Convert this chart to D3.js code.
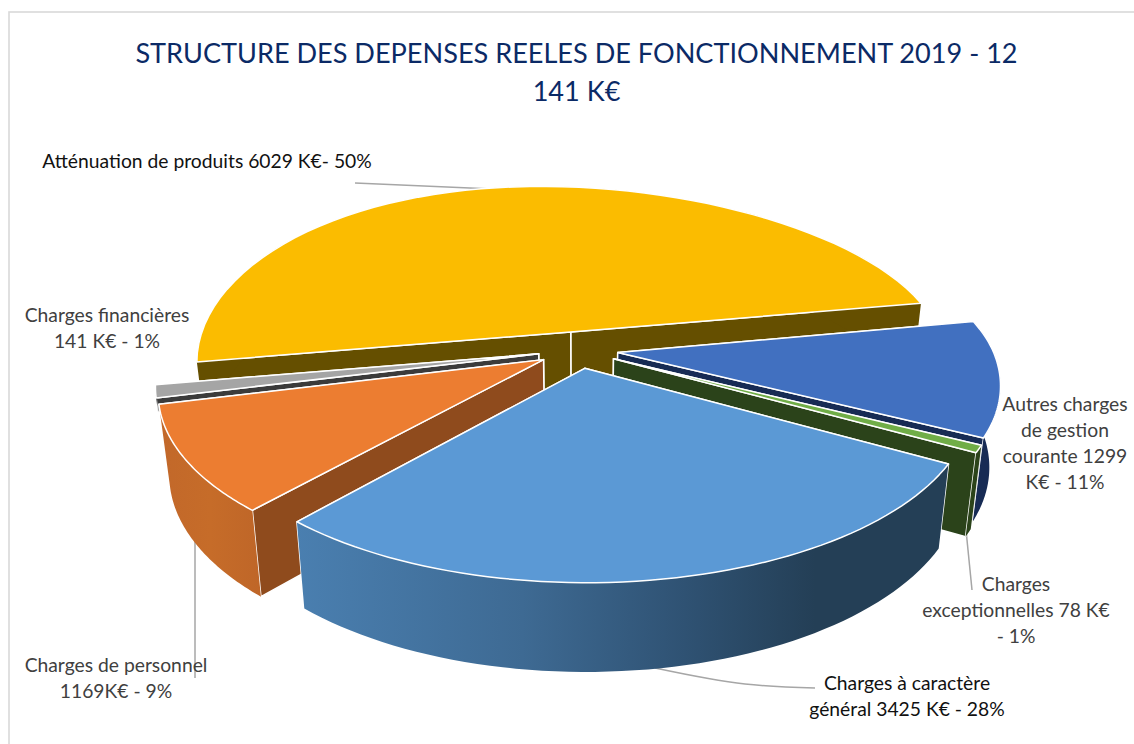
<!DOCTYPE html>
<html><head><meta charset="utf-8">
<script src="https://cdnjs.cloudflare.com/ajax/libs/d3/7.8.5/d3.min.js"></script>
<style>html,body{margin:0;padding:0;background:#fff;overflow:hidden}text{font-family:Lato,"Open Sans",sans-serif}</style>
</head><body><svg id="c" width="1134" height="744"></svg>
<script>
const categories=["Atténuation de produits","Autres charges de gestion courante","Charges exceptionnelles","Charges à caractère général","Charges de personnel","Charges financières"];
const values=[6029,1299,78,3425,1169,141];
const topColors=["#fbbc00","#4170c0","#70ad47","#5b99d5","#ec7d31","#a5a5a5"];
const wallColors=["#654f00","#172b54","#2b431a","url(#gBlue)","url(#gOrange)","#3b3b3b"];
const faceColors=["#654f00","#172b54","#2b431a","#243f56","#8f4b1d","#3b3b3b"];
const paintOrder=[0,5,4,1,2,3];
const titleLines=["STRUCTURE DES DEPENSES REELES DE FONCTIONNEMENT 2019 - 12","141 K€"];
const labelLines=[["Atténuation de produits 6029 K€- 50%"],["Autres charges","de gestion","courante 1299","K€ - 11%"],["Charges","exceptionnelles 78 K€","- 1%"],["Charges à caractère","général 3425 K€ - 28%"],["Charges de personnel","1169K€ - 9%"],["Charges financières","141 K€ - 1%"]];
const labelX=[207,1065,1016,907,116,107];
const labelY=[168,411,591,690,672,322];
const labelFill=["#111","#404040","#404040","#111","#404040","#404040"];
const leaders=[[[355,183],[515,190]],[],[[966,530],[972,590]],[[655,668],[745,684],[815,688]],[[195,530],[195,678]],[]];
const depths=[80,80,80,80,80,14];

const W=1134,H=744,R=375,K_BACK=175,K_FRONT=171,P=0.17,LEAN=0.00033,SHEAR=11,CX=578,CY=350,EXPLODE=40,START=260;
const svg=d3.select("#c");
const defs=svg.append("defs");
function grad(id,stops){const g=defs.append("linearGradient").attr("id",id).attr("gradientUnits","userSpaceOnUse").attr("x1",stops.x1).attr("x2",stops.x2).attr("y1",0).attr("y2",0);
 stops.c.forEach(s=>g.append("stop").attr("offset",s[0]).attr("stop-color",s[1]));}
grad("gBlue",{x1:295,x2:945,c:[[0,"#4a7fb0"],[.35,"#3e6a93"],[.6,"#2f5273"],[.8,"#243f56"],[1,"#243f56"]]});
grad("gOrange",{x1:160,x2:260,c:[[0,"#c2682a"],[.5,"#c66c29"],[1,"#bf6628"]]});

svg.append("rect").attr("x",9).attr("y",12).attr("width",W+20).attr("height",H+20).attr("fill","#fff").attr("stroke","#d9d9d9").attr("stroke-width",1.6);
leaders.forEach(l=>{if(l.length)svg.append("path").attr("d",d3.line().curve(d3.curveMonotoneX)(l)).attr("fill","none").attr("stroke","#a6a6a6").attr("stroke-width",1.5);});

const pie=d3.pie().sort(null).startAngle(START*Math.PI/180).endAngle((START+360)*Math.PI/180);
const arcs=pie(values);
const lineGen=d3.line();
function proj(U,V,z){
 const s=1/(1-P*V/R),k=V<0?K_BACK:K_FRONT;
 return [CX+U*s*(1-z*LEAN),CY+k*(V/R)*s+SHEAR*(U/R)*Math.max(0,-V/R)+z*(1+(s-1)*0.5)];
}
function slicePts(a){
 const mid=(a.startAngle+a.endAngle)/2,ox=EXPLODE*Math.sin(mid),oy=-EXPLODE*Math.cos(mid);
 const angs=d3.range(0,61).map(i=>a.startAngle+(a.endAngle-a.startAngle)*i/60);
 const pt=(t,z)=>proj(ox+R*Math.sin(t),oy-R*Math.cos(t),z);
 return {apex:z=>proj(ox,oy,z),rim:z=>angs.map(t=>pt(t,z))};
}
const g=svg.append("g");
paintOrder.forEach(i=>{
 const s=slicePts(arcs[i]),top=s.rim(0),bot=s.rim(depths[i]),a0=s.apex(0),a1=s.apex(depths[i]);
 const draw=(pts,fill,stroke=true)=>{const p=g.append("path").attr("d",lineGen(pts)+"Z").attr("fill",fill);
   if(stroke){p.attr("stroke","#fff").attr("stroke-width",1.5).attr("stroke-linejoin","round");}};
 const faces=[[a0,top[0],bot[0],a1],[a0,top[60],bot[60],a1]].sort((p,q)=>p[1][1]-q[1][1]);
 draw(faces[0],faceColors[i]);
 draw(faces[1],faceColors[i]);
 draw(top.concat(bot.slice().reverse()),wallColors[i],false);
 draw([a0].concat(top),topColors[i]);
});
titleLines.forEach((t,i)=>svg.append("text").attr("x",576.5).attr("y",[63,101][i]).attr("text-anchor","middle").attr("font-size",27.1).attr("fill","#0b2a66").text(t));
labelLines.forEach((ls,i)=>ls.forEach((t,j)=>svg.append("text").attr("x",labelX[i]).attr("y",labelY[i]+j*26).attr("text-anchor","middle").attr("font-size",19.3).attr("fill",labelFill[i]).text(t)));
</script></body></html>
